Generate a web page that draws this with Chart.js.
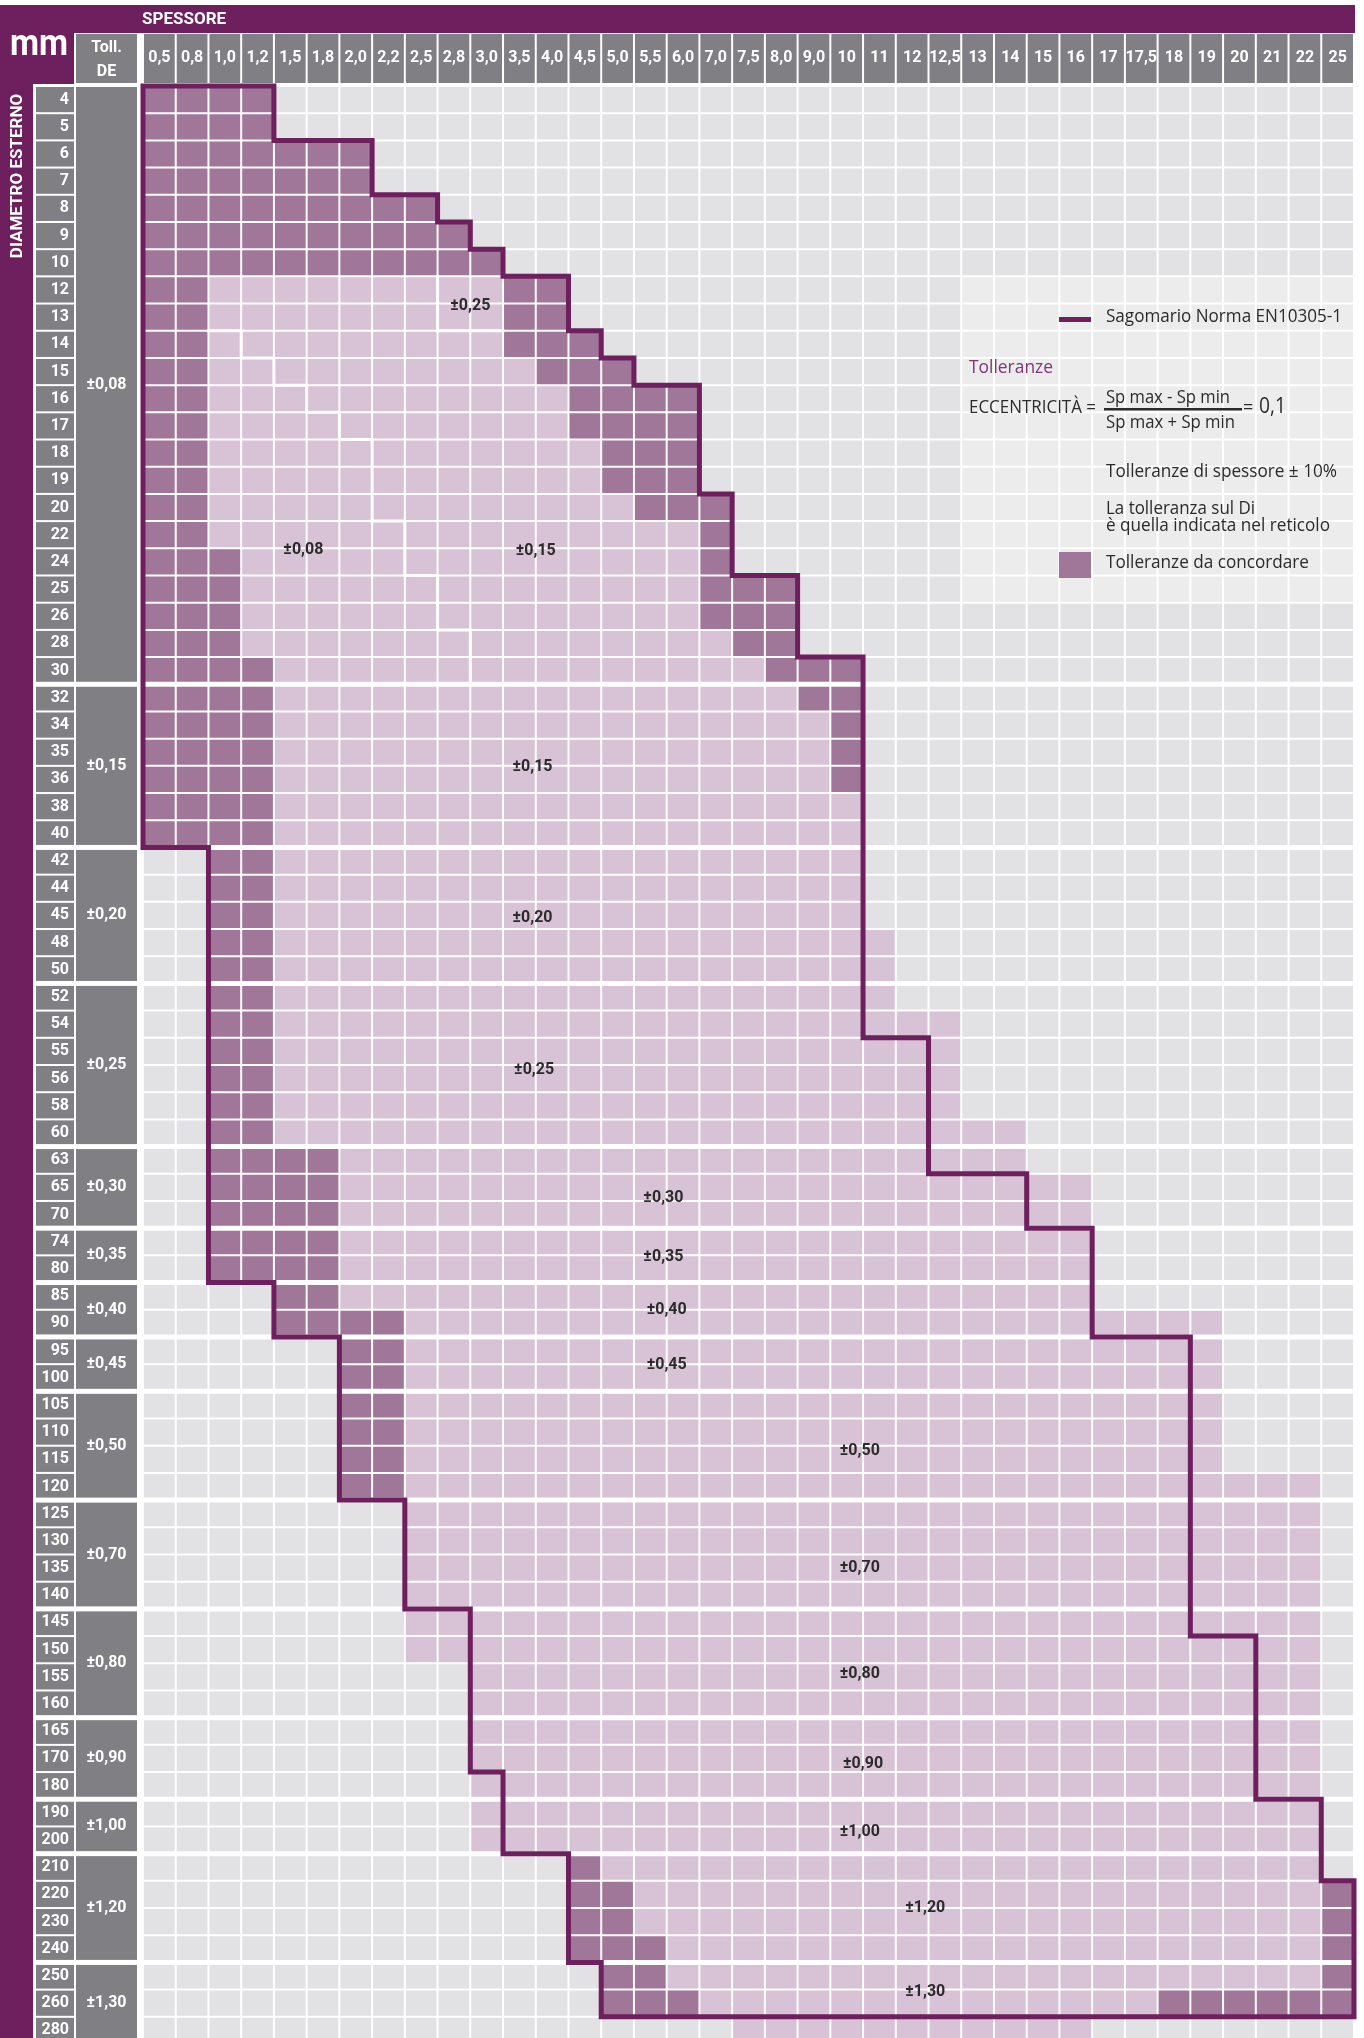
<!DOCTYPE html>
<html lang="it">
<head>
<meta charset="utf-8">
<title>Tolleranze tubi – Sagomario Norma EN10305-1</title>
<script src="https://cdn.jsdelivr.net/npm/chart.js@4.4.1/dist/chart.umd.min.js"></script>
<style>
  html, body { margin: 0; padding: 0; background: #fff; }
  #wrap { width: 1364px; height: 2038px; overflow: hidden; }
  canvas { display: block; }
</style>
</head>
<body>
<div id="wrap"><canvas id="tabella" width="1364" height="2044"></canvas></div>
<script>
// spessori (colonne) e diametri esterni (righe)
const spessori = ['0,5', '0,8', '1,0', '1,2', '1,5', '1,8', '2,0', '2,2', '2,5', '2,8', '3,0', '3,5', '4,0', '4,5', '5,0', '5,5', '6,0',
  '7,0', '7,5', '8,0', '9,0', '10', '11', '12', '12,5', '13', '14', '15', '16', '17', '17,5', '18', '19', '20', '21', '22', '25'];
const diametri = ['4', '5', '6', '7', '8', '9', '10', '12', '13', '14', '15', '16', '17', '18', '19', '20', '22', '24', '25', '26', '28', '30',
  '32', '34', '35', '36', '38', '40', '42', '44', '45', '48', '50', '52', '54', '55', '56', '58', '60', '63', '65', '70', '74', '80',
  '85', '90', '95', '100', '105', '110', '115', '120', '125', '130', '135', '140', '145', '150', '155', '160', '165', '170', '180',
  '190', '200', '210', '220', '230', '240', '250', '260', '280'];

// tolleranza sul diametro esterno e numero di righe per gruppo
const tollDE = ['±0,08', '±0,15', '±0,20', '±0,25', '±0,30', '±0,35', '±0,40', '±0,45', '±0,50', '±0,70', '±0,80', '±0,90', '±1,00', '±1,20', '±1,30'];
const righeDE = [22, 6, 5, 6, 3, 2, 2, 2, 4, 4, 4, 3, 2, 4, 3];

// celle "tolleranze da concordare" (indici di colonna, estremi inclusi)
const scuro = [
  [[0, 3]], [[0, 3]], [[0, 6]], [[0, 6]], [[0, 8]], [[0, 9]], [[0, 10]],
  [[0, 1], [11, 12]], [[0, 1], [11, 12]], [[0, 1], [11, 13]], [[0, 1], [12, 14]],
  [[0, 1], [13, 16]], [[0, 1], [13, 16]], [[0, 1], [14, 16]], [[0, 1], [14, 16]],
  [[0, 1], [15, 17]], [[0, 1], [17, 17]], [[0, 2], [17, 17]], [[0, 2], [17, 19]],
  [[0, 2], [17, 19]], [[0, 2], [18, 19]], [[0, 3], [19, 21]],
  [[0, 3], [20, 21]], [[0, 3], [21, 21]], [[0, 3], [21, 21]], [[0, 3], [21, 21]], [[0, 3]], [[0, 3]],
  [[2, 3]], [[2, 3]], [[2, 3]], [[2, 3]], [[2, 3]],
  [[2, 3]], [[2, 3]], [[2, 3]], [[2, 3]], [[2, 3]], [[2, 3]],
  [[2, 5]], [[2, 5]], [[2, 5]], [[2, 5]], [[2, 5]],
  [[4, 5]], [[4, 7]], [[6, 7]], [[6, 7]],
  [[6, 7]], [[6, 7]], [[6, 7]], [[6, 7]],
  [], [], [], [], [], [], [], [], [], [], [], [], [],
  [[13, 13]], [[13, 14], [36, 36]], [[13, 14], [36, 36]], [[13, 15], [36, 36]],
  [[14, 15], [36, 36]], [[14, 16], [31, 36]], []
];

// celle con tolleranza definita
const chiaro = [
  null, null, null, null, null, null, null,
  [2, 10], [2, 10], [2, 10], [2, 11],
  [2, 12], [2, 12], [2, 13], [2, 13],
  [2, 14], [2, 16], [3, 16], [3, 16],
  [3, 16], [3, 17], [4, 18],
  [4, 19], [4, 20], [4, 20], [4, 20], [4, 21], [4, 21],
  [4, 21], [4, 21], [4, 21], [4, 22], [4, 22],
  [4, 22], [4, 24], [4, 24], [4, 24], [4, 24], [4, 26],
  [6, 26], [6, 28], [6, 28], [6, 28], [6, 28],
  [6, 28], [8, 32], [8, 32], [8, 32],
  [8, 32], [8, 32], [8, 32], [8, 35],
  [8, 35], [8, 35], [8, 35], [8, 35], [8, 35], [8, 35],
  [10, 35], [10, 35], [10, 35], [10, 35], [10, 35], [10, 35], [10, 35],
  [14, 35], [15, 35], [15, 35], [16, 35],
  [16, 35], [17, 30], [18, 28]
];

// contorno del sagomario (colonna, riga) sui bordi delle celle
const sagoma = [[0, 0], [4, 0], [4, 2], [7, 2], [7, 4], [9, 4], [9, 5], [10, 5], [10, 6], [11, 6], [11, 7], [13, 7], [13, 9],
  [14, 9], [14, 10], [15, 10], [15, 11], [17, 11], [17, 15], [18, 15], [18, 18], [20, 18], [20, 21], [22, 21], [22, 35],
  [24, 35], [24, 40], [27, 40], [27, 42], [29, 42], [29, 46], [32, 46], [32, 57], [34, 57], [34, 63], [36, 63], [36, 66],
  [37, 66], [37, 71], [14, 71], [14, 69], [13, 69], [13, 65], [11, 65], [11, 62], [10, 62], [10, 56], [8, 56], [8, 52],
  [6, 52], [6, 46], [4, 46], [4, 44], [2, 44], [2, 28], [0, 28], [0, 0]];
const limite008 = [[2, 9], [3, 9], [3, 10], [4, 10], [4, 11], [5, 11], [5, 12], [6, 12], [6, 13], [7, 13], [7, 16],
  [8, 16], [8, 18], [9, 18], [9, 20], [10, 20], [10, 22]];
const limite025 = [[9, 7], [9, 9], [11, 9]];

// etichette nel reticolo
const tollCelle = ['±0,25', '±0,08', '±0,15', '±0,15', '±0,20', '±0,25', '±0,30', '±0,35', '±0,40', '±0,45',
  '±0,50', '±0,70', '±0,80', '±0,90', '±1,00', '±1,20', '±1,30'];
const posCelle = [[10, 8.1], [4.9, 17.05], [12, 17.1], [11.9, 25.05], [11.9, 30.6], [11.95, 36.2], [15.9, 40.9],
  [15.9, 43.05], [16, 45], [16, 47.05], [21.9, 50.2], [21.9, 54.5], [21.9, 58.4], [22, 61.7], [21.9, 64.2],
  [23.9, 67], [23.9, 70.1]];

const VIOLA = '#6d1f5e';
const GRIGIO = '#808084';
const TESTO = '#2b2b2b';
const COLORI = { scuro: '#a07799', chiaro: '#d7c2d6', vuoto: '#e2e2e4', nota: '#ebeceb' };
const SANS = 'Roboto, "Noto Sans", sans-serif';
const UMANISTA = '"Open Sans", "Noto Sans", sans-serif';

const inizioGruppo = new Set();
righeDE.reduce((acc, n) => { if (acc > 0) inizioGruppo.add(acc); return acc + n; }, 0);

function coloreCella(i, j) {
  if (scuro[i].some(([a, b]) => j >= a && j <= b)) return COLORI.scuro;
  const c = chiaro[i];
  if (c && j >= c[0] && j <= c[1]) return COLORI.chiaro;
  if (j >= 25 && i >= 7 && i <= 18) return COLORI.nota;   // riquadro legenda
  return COLORI.vuoto;
}

function bordoRiga(i) {
  return { top: inizioGruppo.has(i) ? 2.5 : 1, bottom: inizioGruppo.has(i + 1) ? 2.5 : 1, left: 1, right: 1 };
}

function scrivi(ctx, s, x, y, w) {
  ctx.fillText(s, x, y, w);
}

const colonne = spessori.map((sp, j) => ({
  type: 'bar',
  label: sp,
  indexAxis: 'y',
  xAxisID: 'x2',
  yAxisID: 'y',
  data: diametri.map(() => [j, j + 1]),
  backgroundColor: diametri.map((d, i) => coloreCella(i, j)),
  borderColor: '#ffffff',
  borderWidth: (c) => bordoRiga(c.dataIndex),
  borderSkipped: false,
  grouped: false,
  barPercentage: 1,
  categoryPercentage: 1,
  inflateAmount: 0,
  order: 2
}));

function linea(punti, colore, spessore, ordine) {
  return {
    type: 'line',
    indexAxis: 'x',
    xAxisID: 'x2',
    yAxisID: 'y2',
    data: punti.map(([x, y]) => ({ x, y })),
    borderColor: colore,
    borderWidth: spessore,
    borderJoinStyle: 'miter',
    borderCapStyle: 'square',
    pointRadius: 0,
    tension: 0,
    fill: false,
    clip: false,
    order: ordine
  };
}

const cornice = {
  id: 'cornice',
  beforeDraw(chart) {
    const { ctx, scales: { x2, y2 }, chartArea: area } = chart;
    ctx.save();
    ctx.fillStyle = '#fff';
    ctx.fillRect(0, 0, chart.width, chart.height);

    ctx.fillStyle = VIOLA;
    ctx.fillRect(0, 5, area.right + 1, 28);
    ctx.fillRect(0, 33, 74, 51);
    ctx.fillRect(0, 84, 33, chart.height - 84);

    ctx.fillStyle = GRIGIO;
    for (let j = 0; j < spessori.length; j++) {
      const a = x2.getPixelForValue(j), b = x2.getPixelForValue(j + 1);
      ctx.fillRect(a + 1, 34, b - a - 2, 49);
    }
    ctx.fillRect(76, 34, 61, 49);

    diametri.forEach((d, i) => {
      const t = y2.getPixelForValue(i) + (inizioGruppo.has(i) ? 2.5 : 1);
      const b = y2.getPixelForValue(i + 1) - (inizioGruppo.has(i + 1) ? 2.5 : 1);
      ctx.fillRect(36, t, 38, b - t);
    });

    const gruppi = [];
    righeDE.reduce((r, n) => { gruppi.push([r, r + n]); return r + n; }, 0);
    gruppi.forEach(([r0, r1]) => {
      const t = y2.getPixelForValue(r0) + (r0 > 0 ? 2.5 : 1);
      const b = y2.getPixelForValue(r1) - (r1 < diametri.length ? 2.5 : 1);
      ctx.fillRect(76, t, 61, b - t);
    });

    ctx.fillStyle = '#fff';
    ctx.textBaseline = 'middle';
    ctx.textAlign = 'center';
    ctx.font = `bold 16px ${SANS}`;
    gruppi.forEach(([r0, r1], k) => {
      ctx.fillText(tollDE[k], 106.5, (y2.getPixelForValue(r0) + y2.getPixelForValue(r1)) / 2);
    });
    ctx.fillText('Toll.', 106.5, 48);
    ctx.fillText('DE', 106.5, 72);

    ctx.textAlign = 'left';
    ctx.font = `bold 17px ${SANS}`;
    scrivi(ctx, 'SPESSORE', 142, 20, 88);

    ctx.textAlign = 'center';
    ctx.textBaseline = 'alphabetic';
    ctx.font = `bold 37px ${SANS}`;
    scrivi(ctx, 'mm', 39, 55, 58);

    ctx.save();
    ctx.translate(17.5, 176);
    ctx.rotate(-Math.PI / 2);
    ctx.textBaseline = 'middle';
    ctx.font = `bold 17px ${SANS}`;
    scrivi(ctx, 'DIAMETRO ESTERNO', 0, 0, 180);
    ctx.restore();
    ctx.restore();
  },
  afterDraw(chart) {
    const { ctx, scales: { x2, y2 } } = chart;
    ctx.save();
    ctx.fillStyle = TESTO;
    ctx.font = `bold 16px ${SANS}`;
    ctx.textAlign = 'center';
    ctx.textBaseline = 'middle';
    tollCelle.forEach((t, k) => {
      const [c, r] = posCelle[k];
      ctx.fillText(t, x2.getPixelForValue(c), y2.getPixelForValue(r));
    });

    // legenda
    ctx.textAlign = 'left';
    ctx.textBaseline = 'alphabetic';
    ctx.fillStyle = VIOLA;
    ctx.fillRect(1059, 317, 32, 5);
    ctx.fillStyle = TESTO;
    ctx.font = `18px ${UMANISTA}`;
    scrivi(ctx, 'Sagomario Norma EN10305-1', 1106, 322, 236);
    ctx.fillStyle = '#85347a';
    scrivi(ctx, 'Tolleranze', 969, 373, 84);
    ctx.fillStyle = TESTO;
    scrivi(ctx, 'ECCENTRICITÀ =', 969, 413, 127);
    scrivi(ctx, 'Sp max - Sp min', 1106, 403, 124);
    ctx.fillRect(1104, 408, 138, 2.5);
    scrivi(ctx, 'Sp max + Sp min', 1106, 428, 129);
    scrivi(ctx, '=', 1243, 413, 12);
    ctx.font = `21px ${UMANISTA}`;
    scrivi(ctx, '0,1', 1259, 413, 27);
    ctx.font = `18px ${UMANISTA}`;
    scrivi(ctx, 'Tolleranze di spessore ± 10%', 1106, 477, 231);
    scrivi(ctx, 'La tolleranza sul Di', 1106, 514, 149);
    scrivi(ctx, 'è quella indicata nel reticolo', 1106, 531, 224);
    ctx.fillStyle = COLORI.scuro;
    ctx.fillRect(1059, 552, 32, 26);
    ctx.fillStyle = TESTO;
    scrivi(ctx, 'Tolleranze da concordare', 1106, 568, 203);
    ctx.restore();
  }
};

new Chart(document.getElementById('tabella'), {
  type: 'bar',
  data: {
    labels: diametri,
    datasets: [
      ...colonne,
      linea(limite008, '#ffffff', 3, 1),
      linea(limite025, '#ffffff', 3, 1),
      linea(sagoma, VIOLA, 5, 0)
    ]
  },
  options: {
    responsive: false,
    animation: false,
    indexAxis: 'y',
    events: [],
    layout: { padding: { top: 0, left: 0, right: 10, bottom: 0 } },
    plugins: {
      legend: { display: false },
      tooltip: { enabled: false }
    },
    scales: {
      x: {
        type: 'category',
        position: 'top',
        labels: spessori,
        offset: true,
        grid: { display: false, offset: true, drawTicks: false },
        border: { display: false },
        ticks: { color: '#fff', font: { family: SANS, weight: 'bold', size: 16 }, padding: 18, autoSkip: false, maxRotation: 0, minRotation: 0 },
        afterFit: (s) => { s.height = 86; s.paddingLeft = 0; s.paddingRight = 0; }
      },
      y: {
        type: 'category',
        position: 'left',
        labels: diametri,
        offset: true,
        grid: { display: false, offset: true, drawTicks: false },
        border: { display: false },
        ticks: { color: '#fff', font: { family: SANS, weight: 'bold', size: 16 }, padding: 74, autoSkip: false },
        afterFit: (s) => { s.width = 143; s.paddingTop = 0; s.paddingBottom = 0; }
      },
      x2: { type: 'linear', position: 'bottom', display: false, min: 0, max: spessori.length, offset: false },
      y2: { type: 'linear', position: 'left', display: false, min: 0, max: diametri.length, reverse: true, offset: false }
    }
  },
  plugins: [cornice]
});
</script>
</body>
</html>
